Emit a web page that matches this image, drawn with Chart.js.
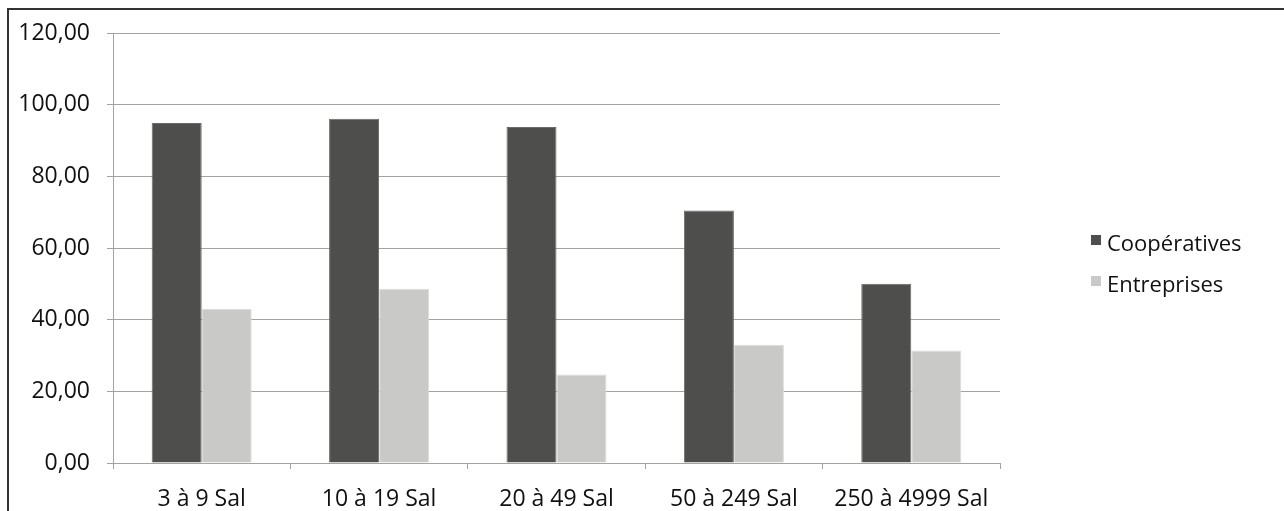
<!DOCTYPE html>
<html>
<head>
<meta charset="utf-8">
<script src="https://cdn.jsdelivr.net/npm/chart.js@4.4.1/dist/chart.umd.min.js"></script>
<style>
  html, body { margin: 0; padding: 0; background: #fff; }
  #wrap { position: relative; width: 1284px; height: 511px; overflow: hidden; }
  #frame { position: absolute; left: 7px; top: 8px; width: 1400px; height: 600px;
           border-top: 2px solid #333; border-left: 2px solid #333; pointer-events: none; }
  canvas { position: absolute; left: 0; top: 0; }
</style>
</head>
<body>
<div id="wrap">
  <canvas id="c" width="1284" height="511"></canvas>
  <div id="frame"></div>
</div>
<script>
const categories = ["3 à 9 Sal", "10 à 19 Sal", "20 à 49 Sal", "50 à 249 Sal", "250 à 4999 Sal"];
const cooperatives = [94.9, 96.1, 93.8, 70.5, 50.0];
const entreprises = [43.0, 48.6, 24.7, 33.0, 31.4];
const seriesNames = ["Coopératives", "Entreprises"];
const yTicks = [0, 20, 40, 60, 80, 100, 120];

const FONT = '"Open Sans", "Noto Sans", sans-serif';
const GRID = '#a3a3a3';

const sideLegend = {
  id: 'sideLegend',
  afterDraw(chart) {
    const ctx = chart.ctx;
    ctx.save();
    ctx.font = '22px ' + FONT;
    ctx.textBaseline = 'middle';
    ctx.textAlign = 'left';
    chart.data.datasets.forEach((ds, i) => {
      const y = 245 + i * 41;
      ctx.fillStyle = ds.backgroundColor;
      ctx.fillRect(1091, y - 10, 10, 10);
      ctx.fillStyle = '#111';
      ctx.fillText(ds.label, 1107, y);
    });
    ctx.restore();
  }
};

new Chart(document.getElementById('c'), {
  type: 'bar',
  data: {
    labels: categories,
    datasets: [
      { label: seriesNames[0], data: cooperatives, backgroundColor: '#4e4e4c', borderColor: '#6a6a68', borderWidth: 1 },
      { label: seriesNames[1], data: entreprises, backgroundColor: '#c9c9c7', borderColor: '#dcdcda', borderWidth: 1 }
    ]
  },
  options: {
    responsive: false,
    animation: false,
    layout: { padding: { left: 0, top: 33, right: 284, bottom: 0 } },
    plugins: { legend: { display: false }, tooltip: { enabled: false } },
    datasets: { bar: { barPercentage: 1.0, categoryPercentage: 0.564 } },
    scales: {
      x: {
        grid: { offset: true, drawOnChartArea: false, tickLength: 6, color: GRID, lineWidth: 1 },
        border: { display: true, color: GRID, width: 1 },
        ticks: { color: '#111', font: { family: FONT, size: 23 }, padding: 17, maxRotation: 0 },
        afterFit(scale) { scale.height = 48; }
      },
      y: {
        min: 0, max: 120,
        afterBuildTicks(scale) { scale.ticks = yTicks.map(v => ({ value: v })); },
        grid: { color: GRID, lineWidth: 1, tickLength: 6 },
        border: { display: true, color: GRID, width: 1 },
        ticks: {
          color: '#111', font: { family: FONT, size: 23 }, padding: 17,
          callback: v => v.toFixed(2).replace('.', ',')
        },
        afterFit(scale) { scale.width = 113; }
      }
    }
  },
  plugins: [sideLegend]
});
</script>
</body>
</html>
